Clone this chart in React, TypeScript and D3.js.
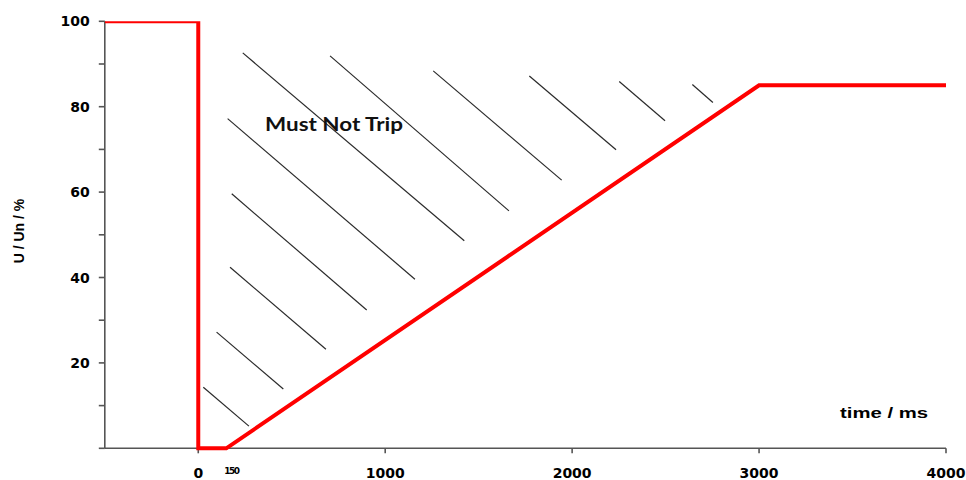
import React from "react";
import * as d3 from "d3";

const W = 966;
const H = 480;

// Main curve (time in ms, U/Un in %)
const curveX = [-500, 0, 0, 150, 3000, 4000];
const curveY = [100, 100, 0, 0, 85, 85];

// Tick values and labels
const xTickValues = [0, 1000, 2000, 3000, 4000];
const xTickLabels = ["0", "1000", "2000", "3000", "4000"];
const yMajorTicks = [20, 40, 60, 80, 100];
const yMinorTicks = [0, 10, 30, 50, 70, 90];

// Hatch lines in the "Must Not Trip" area (start/end in data units)
const hatchX1 = [27, 98, 170, 179, 157, 238, 705, 1257, 1771, 2252, 2643];
const hatchY1 = [14.3, 27.2, 42.4, 59.6, 77.2, 92.6, 91.9, 88.4, 87.2, 85.9, 85.2];
const hatchX2 = [271, 455, 683, 901, 1159, 1423, 1662, 1944, 2235, 2497, 2753];
const hatchY2 = [5.2, 13.9, 23.2, 32.4, 39.6, 48.6, 55.6, 62.8, 69.9, 76.7, 81.0];

const regionLabel = "Must Not Trip";
const xAxisTitle = "time / ms";
const yAxisTitle = "U / Un / %";
const extraXLabel = { value: 150, text: "150" };

export default function App() {
  const x = d3.scaleLinear().domain([-500, 4000]).range([104.8, 946]);
  const y = d3.scaleLinear().domain([0, 100]).range([448.3, 21.3]);

  const line = d3
    .line<number>()
    .x((_, i) => x(curveX[i]))
    .y((_, i) => y(curveY[i]))
    .curve(d3.curveLinear);

  const tickFont = "'DejaVu Sans', sans-serif";

  return (
    <svg
      width={W}
      height={H}
      style={{ position: "absolute", left: 0, top: 0, background: "#fff" }}
    >
      <defs>
        <clipPath id="plotClip">
          <rect x={x(-500)} y={y(100)} width={W} height={H} />
        </clipPath>
      </defs>

      {/* hatch lines */}
      <g stroke="#2a2a2a" strokeWidth={1.2}>
        {hatchX1.map((_, i) => (
          <line
            key={i}
            x1={x(hatchX1[i])}
            y1={y(hatchY1[i])}
            x2={x(hatchX2[i])}
            y2={y(hatchY2[i])}
          />
        ))}
      </g>

      {/* axes */}
      <g stroke="#555" strokeWidth={1.6} fill="none">
        <line x1={x(-500)} y1={y(0)} x2={x(4000)} y2={y(0)} />
        <line x1={x(-500)} y1={y(100)} x2={x(-500)} y2={y(0)} />
        {[...yMajorTicks, ...yMinorTicks].map((v) => (
          <line key={"yt" + v} x1={x(-500) - 6} x2={x(-500)} y1={y(v)} y2={y(v)} />
        ))}
        {xTickValues.map((v) => (
          <line key={"xt" + v} x1={x(v)} x2={x(v)} y1={y(0)} y2={y(0) + 5} />
        ))}
      </g>

      {/* red curve */}
      <path
        d={line(curveX) || ""}
        fill="none"
        stroke="#ff0000"
        strokeWidth={4}
        strokeLinejoin="miter"
        clipPath="url(#plotClip)"
      />

      {/* y tick labels */}
      <g fontFamily={tickFont} fontWeight="bold" fontSize={14} fill="#000">
        {yMajorTicks.map((v) => (
          <text
            key={"yl" + v}
            x={x(-500) - 15}
            y={y(v)}
            textAnchor="end"
            dominantBaseline="central"
          >
            {v}
          </text>
        ))}
      </g>

      {/* x tick labels */}
      <g fontFamily={tickFont} fontWeight="bold" fontSize={14} fill="#000">
        {xTickValues.map((v, i) => (
          <text key={"xl" + v} x={x(v)} y={478} textAnchor="middle">
            {xTickLabels[i]}
          </text>
        ))}
      </g>
      <text
        x={x(extraXLabel.value) + 5}
        y={474}
        textAnchor="middle"
        fontFamily={tickFont}
        fontWeight="bold"
        fontSize={9}
        letterSpacing={-1.5}
        fill="#000"
      >
        {extraXLabel.text}
      </text>

      {/* region label */}
      <text
        x={265}
        y={131}
        fontFamily="Lato, 'Open Sans', sans-serif"
        fontWeight="bold"
        fontSize={18}
        fill="#111"
        textLength={138}
        lengthAdjust="spacingAndGlyphs"
      >
        {regionLabel}
      </text>

      {/* axis titles */}
      <text
        x={840}
        y={418}
        fontFamily="'Liberation Sans', Arial, sans-serif"
        fontWeight="bold"
        fontSize={15}
        fill="#000"
        textLength={88}
        lengthAdjust="spacingAndGlyphs"
      >
        {xAxisTitle}
      </text>
      <text
        transform="translate(24,231) rotate(-90)"
        textAnchor="middle"
        fontFamily="'Liberation Sans', Arial, sans-serif"
        fontWeight="bold"
        fontSize={14}
        fill="#000"
      >
        {yAxisTitle}
      </text>
    </svg>
  );
}
